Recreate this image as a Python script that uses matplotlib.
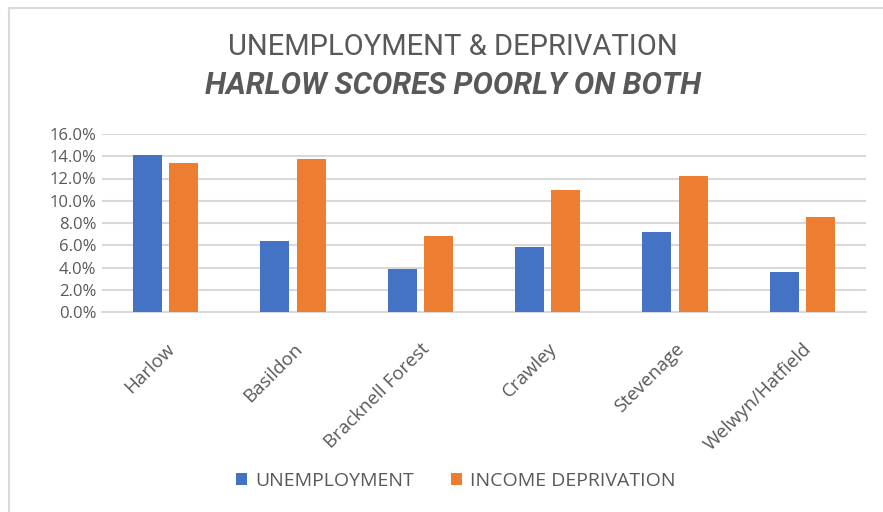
# Unemployment vs income deprivation, clustered bar chart
import matplotlib.pyplot as plt
import numpy as np
from matplotlib.lines import Line2D
from matplotlib.ticker import FuncFormatter, MultipleLocator

towns = ["Harlow", "Basildon", "Bracknell Forest", "Crawley", "Stevenage", "Welwyn/Hatfield"]
unemployment = [14.1, 6.4, 3.85, 5.8, 7.2, 3.6]
income_deprivation = [13.35, 13.75, 6.8, 10.95, 12.2, 8.55]
series_names = ["UNEMPLOYMENT", "INCOME DEPRIVATION"]

BLUE = "#4472C4"
ORANGE = "#ED7D31"
GREY_TXT = "#595959"
GRID = "#D9D9D9"

plt.rcParams["font.family"] = ["Open Sans", "DejaVu Sans"]

fig = plt.figure(figsize=(8.83, 5.12), dpi=100)
fig.patch.set_facecolor("white")

# outer chart border (only top and left edges visible in the crop)
fig.add_artist(Line2D([9 / 883, 1.0], [1 - 8 / 512] * 2, color="#D9D9D9", lw=1.5))
fig.add_artist(Line2D([9 / 883] * 2, [0.0, 1 - 8 / 512], color="#D9D9D9", lw=1.5))

ax = fig.add_axes([102 / 883, 1 - 312 / 512, 764 / 883, 178 / 512])

x = np.arange(len(towns))
width = 0.23
offset = 0.1425
ax.bar(x - offset, unemployment, width, color=BLUE, label=series_names[0], zorder=3)
ax.bar(x + offset, income_deprivation, width, color=ORANGE, label=series_names[1], zorder=3)

ax.set_xlim(-0.5, len(towns) - 0.5)
ax.set_ylim(0, 16)
ax.yaxis.set_major_locator(MultipleLocator(2))
ax.yaxis.set_major_formatter(FuncFormatter(lambda v, _: f"{v:.1f}%"))
ax.yaxis.grid(True, color=GRID, linewidth=1.5, zorder=0)
ax.set_axisbelow(True)

for side in ["top", "right", "left"]:
    ax.spines[side].set_visible(False)
ax.spines["bottom"].set_color(GRID)
ax.spines["bottom"].set_linewidth(1.5)

ax.tick_params(axis="y", length=0, labelsize=12, labelcolor=GREY_TXT, pad=4)
ax.tick_params(axis="x", length=0, labelsize=13.5, labelcolor=GREY_TXT, pad=20)
ax.set_xticks(x)
ax.set_xticklabels(towns, rotation=45, ha="right", rotation_mode="anchor")

# titles
fig.text(0.513, 1 - 47 / 512, "UNEMPLOYMENT & DEPRIVATION", ha="center", va="center",
         fontsize=21, color=GREY_TXT, fontweight="normal", family=["Roboto", "DejaVu Sans"])
fig.text(0.513, 1 - 85 / 512, "HARLOW SCORES POORLY ON BOTH", ha="center", va="center",
         fontsize=22, color=GREY_TXT, fontweight="bold", fontstyle="italic",
         family=["Roboto", "DejaVu Sans"])

leg = fig.legend(loc="center", bbox_to_anchor=(0.516, 1 - 481 / 512), ncol=2, frameon=False,
                 fontsize=14, handlelength=0.6, handleheight=0.6, handletextpad=0.4,
                 columnspacing=1.9)
for t in leg.get_texts():
    t.set_color(GREY_TXT)

fig.savefig("out.png", dpi=100, facecolor=fig.get_facecolor())
